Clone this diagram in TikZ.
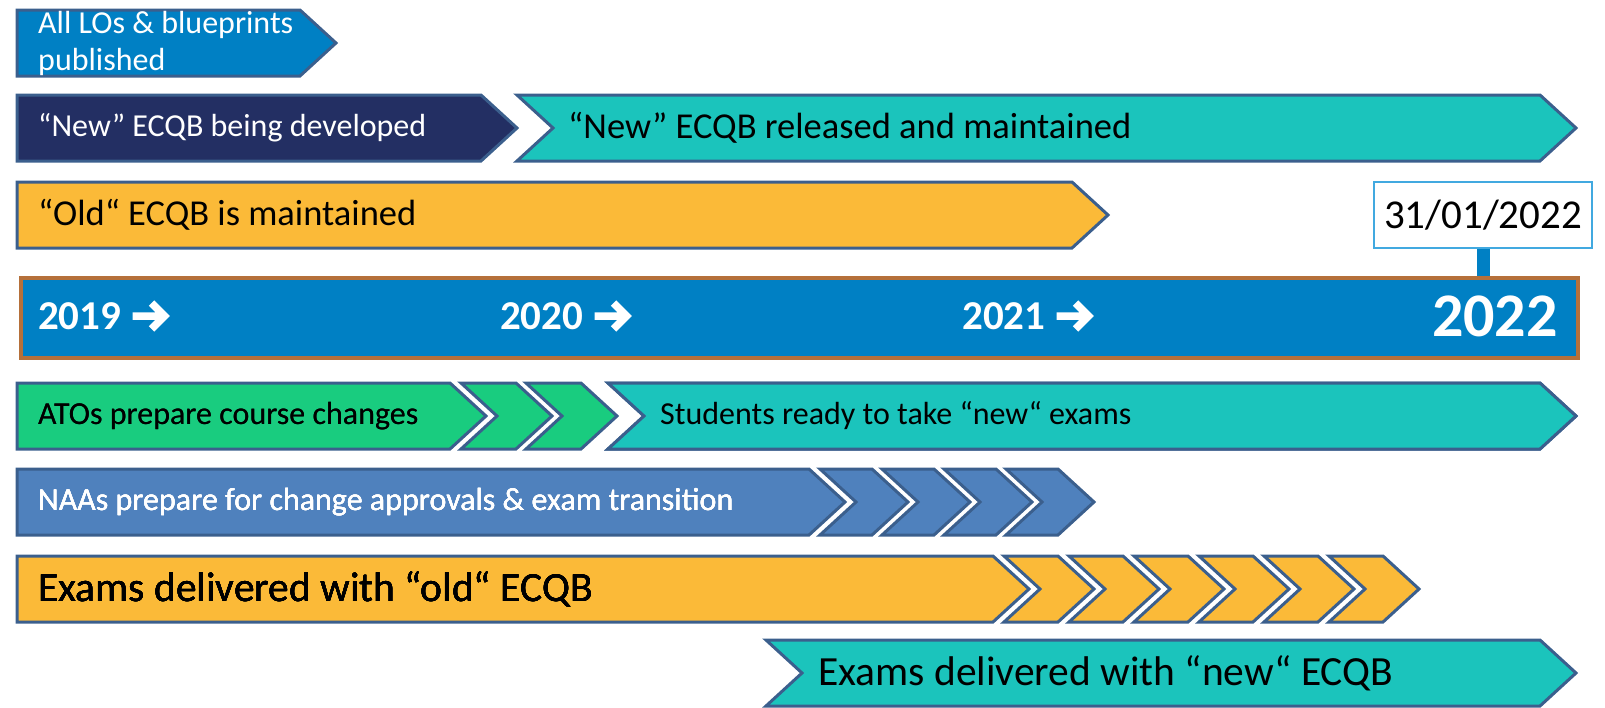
\documentclass[tikz,border=0pt]{standalone}
\usepackage{fontspec}
\setmainfont{Carlito}
\usepackage{tikz}
\usetikzlibrary{positioning}

\definecolor{barblue}{RGB}{0,128,196}
\definecolor{navy}{RGB}{35,47,99}
\definecolor{teal}{RGB}{27,196,188}
\definecolor{ochre}{RGB}{251,186,56}
\definecolor{mint}{RGB}{25,204,127}
\definecolor{steel}{RGB}{79,129,189}
\definecolor{edge}{RGB}{59,95,141}
\definecolor{rust}{RGB}{181,112,58}
\definecolor{skyline}{RGB}{65,169,224}

% pointed bar: fill, left x, flat right x, top y
\newcommand{\headbar}[4]{%
  \filldraw[barline,fill=#1] (#2,#4) -- (#3,#4) -- ++(36,33) -- (#3,#4+66) -- (#2,#4+66) -- cycle;}
% chevron with notch: fill, left x, flat right x, top y
\newcommand{\chevbar}[4]{%
  \filldraw[barline,fill=#1] (#2,#4) -- (#3,#4) -- ++(36,33) -- (#3,#4+66) -- (#2,#4+66) -- ++(36,-33) -- cycle;}

\begin{document}
\begin{tikzpicture}[x=1pt,y=-1pt]
\tikzstyle{barline}=[draw=edge,line width=3pt,line join=miter]
\tikzstyle{label}=[anchor=west,inner sep=0pt,font=\fontsize{32}{34}\selectfont]
\tikzstyle{midlabel}=[anchor=west,inner sep=0pt,font=\fontsize{36.5}{38}\selectfont]
\tikzstyle{biglabel}=[anchor=west,inner sep=0pt,font=\fontsize{41.5}{44}\selectfont]
\tikzstyle{year}=[anchor=west,inner sep=0pt,text=white,font=\bfseries\fontsize{41}{43}\selectfont]
\tikzstyle{yearmark}=[white,line width=7.5pt,line join=miter,line cap=butt]
\useasboundingbox (0,0) rectangle (1605,707);

% row 1
\headbar{barblue}{17}{300}{10}
\node[label,anchor=north west,align=left,text=white,font=\fontsize{32}{37}\selectfont] (los) at (38,11) {All LOs \& blueprints\\published};

% row 2
\headbar{navy}{17}{481}{95}
\chevbar{teal}{517}{1540}{95}
\node[label,text=white] (newdev) at (38,128) {“New” ECQB being developed};
\node[midlabel] (newrel) at (568,128) {“New” ECQB released and maintained};

% row 3
\headbar{ochre}{17}{1072}{182}
\node[midlabel] (oldkeep) at (38,215) {“Old“ ECQB is maintained};

% timeline
\node[draw=rust,line width=3.5pt,fill=barblue,minimum width=1557pt,minimum height=80pt,anchor=north west,inner sep=0pt] (bar) at (19,276) {};
\node[year] (y19) at (38,316) {2019};
\node[year] (y20) at (500,316) {2020};
\node[year] (y21) at (962,316) {2021};
\foreach \y in {y19,y20,y21}
  \draw[yearmark] ([xshift=11pt]\y.east) -- ++(32,0) ([xshift=30pt,yshift=-13pt]\y.east) -- ++(13,-13) -- ++(-13,-13);
\node[anchor=east,inner sep=0pt,text=white,font=\bfseries\fontsize{62}{64}\selectfont] (y22) at (1558,316) {2022};
\node[draw=skyline,line width=1.2pt,fill=white,minimum width=218pt,minimum height=66pt,inner sep=0pt,font=\fontsize{41}{43}\selectfont] (date) at (1483,215) {31/01/2022};
\draw[barblue,line width=13pt] (date.south) -- (date.south |- bar.north);

% row 5
\headbar{mint}{17}{450}{383}
\foreach \i in {0,1}
  \chevbar{mint}{461+65*\i}{516+65*\i}{383}
\chevbar{teal}{608}{1540}{383}
\node[label] (atos) at (38,416) {ATOs prepare course changes};
\node[label] (ready) at (660,416) {Students ready to take “new“ exams};

% row 6
\headbar{steel}{17}{809}{469}
\foreach \i in {0,...,3}
  \chevbar{steel}{820+62*\i}{872+62*\i}{469}
\node[label,text=white] (naas) at (38,502) {NAAs prepare for change approvals \& exam transition};

% row 7
\headbar{ochre}{17}{993}{556}
\foreach \i in {0,...,5}
  \chevbar{ochre}{1004+65*\i}{1058+65*\i}{556}
\node[biglabel] (oldexam) at (38,589) {Exams delivered with “old“ ECQB};

% row 8
\chevbar{teal}{766}{1540}{640}
\node[biglabel] (newexam) at (818,673) {Exams delivered with “new“ ECQB};
\end{tikzpicture}
\end{document}
